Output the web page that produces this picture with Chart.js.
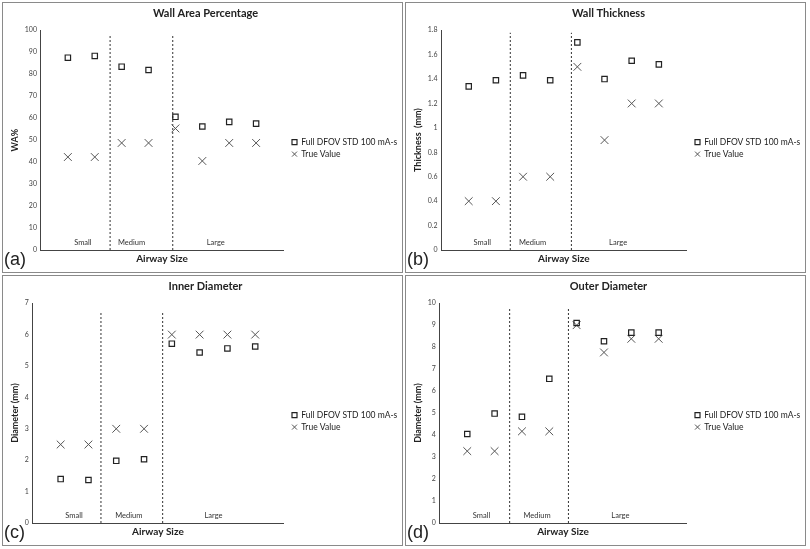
<!DOCTYPE html>
<html>
<head>
<meta charset="utf-8">
<script src="https://cdn.jsdelivr.net/npm/chart.js@4.4.0/dist/chart.umd.min.js"></script>
<style>
  body { margin: 0; background: #fff; width: 810px; height: 549px; position: relative; overflow: hidden; }
  .panel { position: absolute; box-sizing: border-box; border: 1.5px solid #8a8a8a; width: 401px; height: 271px; }
  .panel canvas { position: absolute; left: 0; top: 0; }
  .tag { position: absolute; left: 1px; top: 246px; font: 18px "Liberation Sans", Arial, sans-serif; color: #222; }
</style>
</head>
<body>
<div class="panel" style="left:2px;top:2px"><canvas id="c1" width="398" height="268"></canvas><span class="tag">(a)</span></div>
<div class="panel" style="left:405px;top:2px"><canvas id="c2" width="398" height="268"></canvas><span class="tag">(b)</span></div>
<div class="panel" style="left:2px;top:275px"><canvas id="c3" width="398" height="268"></canvas><span class="tag">(c)</span></div>
<div class="panel" style="left:405px;top:275px"><canvas id="c4" width="398" height="268"></canvas><span class="tag">(d)</span></div>
<script>
// airway index along the x axis
const positions = [1, 2, 3, 4, 5, 6, 7, 8];
const groupNames = ["Small", "Medium", "Large"];
const seriesNames = ["Full DFOV STD 100 mA-s", "True Value"];

// (a) wall area percentage
const waMeasured = [87.5, 88.3, 83.4, 81.9, 60.6, 56.2, 58.3, 57.5];
const waTrue = [42.3, 42.3, 48.7, 48.7, 55.3, 40.5, 48.7, 48.7];
// (b) wall thickness, mm
const wtMeasured = [1.34, 1.39, 1.43, 1.39, 1.70, 1.40, 1.55, 1.52];
const wtTrue = [0.4, 0.4, 0.6, 0.6, 1.5, 0.9, 1.2, 1.2];
// (c) inner diameter, mm
const idMeasured = [1.40, 1.37, 1.98, 2.03, 5.71, 5.43, 5.56, 5.62];
const idTrue = [2.5, 2.5, 3, 3, 6, 6, 6, 6];
// (d) outer diameter, mm
const odMeasured = [4.05, 4.98, 4.83, 6.56, 9.10, 8.27, 8.66, 8.66];
const odTrue = [3.27, 3.27, 4.17, 4.17, 9.0, 7.76, 8.38, 8.38];

const FONT = "Lato, 'Open Sans', sans-serif";

const panels = [
    { id: "c1", title: "Wall Area Percentage", yTitle: "WA%", max: 100, step: 10,
      measured: waMeasured, truth: waTrue, dividers: [2.57, 4.9], divTop: 98, groupAt: [1.56, 3.37, 6.5] },
    { id: "c2", title: "Wall Thickness", yTitle: "Thickness  (mm)", max: 1.8, step: 0.2,
      measured: wtMeasured, truth: wtTrue, dividers: [2.53, 4.78], divTop: 1.78, groupAt: [1.5, 3.35, 6.5] },
    { id: "c3", title: "Inner Diameter", yTitle: "Diameter (mm)", max: 7, step: 1,
      measured: idMeasured, truth: idTrue, dividers: [2.45, 4.67], divTop: 6.75, groupAt: [1.48, 3.45, 6.5] },
    { id: "c4", title: "Outer Diameter", yTitle: "Diameter (mm)", max: 10, step: 1,
      measured: odMeasured, truth: odTrue, dividers: [2.55, 4.7], divTop: 9.75, groupAt: [1.52, 3.55, 6.6] },
];

const groupLabelPlugin = {
    id: "groupLabels",
    afterLayout(chart) {
        // nudge the legend away from the plot area
        chart.legend.left += 5.5;
        chart.legend.right += 5.5;
    },
    afterDatasetsDraw(chart, args, opts) {
        const ctx = chart.ctx;
        const xs = chart.scales.x;
        ctx.save();
        ctx.font = "7.5px " + FONT;
        ctx.fillStyle = "#333";
        ctx.textAlign = "center";
        ctx.textBaseline = "middle";
        opts.at.forEach((x, i) => {
            ctx.fillText(groupNames[i], xs.getPixelForValue(x), chart.chartArea.bottom - 7);
        });
        ctx.restore();
    }
};

function drawPanel(p) {
    const dividerSets = p.dividers.map(x => ({
        type: "line",
        data: [{ x: x, y: 0 }, { x: x, y: p.divTop }],
        borderColor: "#333",
        borderWidth: 1,
        borderDash: [2, 2],
        pointRadius: 0,
    }));
    new Chart(document.getElementById(p.id), {
        type: "scatter",
        plugins: [groupLabelPlugin],
        data: {
            datasets: [
                {
                    label: seriesNames[0],
                    data: positions.map((x, i) => ({ x: x, y: p.measured[i] })),
                    pointStyle: "rect",
                    pointRadius: 3.8,
                    borderColor: "#222",
                    backgroundColor: "rgba(255,255,255,0)",
                    borderWidth: 1.2,
                },
                {
                    label: seriesNames[1],
                    data: positions.map((x, i) => ({ x: x, y: p.truth[i] })),
                    pointStyle: "crossRot",
                    pointRadius: 5.5,
                    borderColor: "#555",
                    borderWidth: 1,
                },
                ...dividerSets,
            ],
        },
        options: {
            responsive: false,
            animation: false,
            layout: { padding: { left: 7, right: 0, top: 0, bottom: 6 } },
            plugins: {
                tooltip: { enabled: false },
                groupLabels: { at: p.groupAt },
                title: {
                    display: true,
                    text: p.title,
                    color: "#222",
                    font: { family: FONT, size: 11, weight: "bold" },
                    padding: { top: 4, bottom: 10 },
                },
                legend: {
                    position: "right",
                    maxWidth: 118,
                    title: { display: true, text: "", font: { size: 1 }, padding: { top: 13, bottom: 14 } },
                    labels: {
                        filter: item => item.datasetIndex < 2,
                        usePointStyle: true,
                        boxWidth: 5,
                        boxHeight: 5,
                        padding: 3.5,
                        color: "#222",
                        font: { family: FONT, size: 8.5 },
                    },
                },
            },
            scales: {
                x: {
                    type: "linear",
                    min: 0,
                    max: 9,
                    grid: { display: false, drawTicks: false },
                    border: { display: true, color: "#444", width: 1 },
                    ticks: { display: false },
                    title: {
                        display: true,
                        text: "Airway Size",
                        color: "#222",
                        font: { family: FONT, size: 10, weight: "bold" },
                        padding: { top: 3, bottom: 0 },
                    },
                },
                y: {
                    min: 0,
                    max: p.max,
                    grid: { display: false, drawTicks: false },
                    border: { display: true, color: "#444", width: 1 },
                    ticks: {
                        stepSize: p.step,
                        padding: 4,
                        color: "#444",
                        font: { family: FONT, size: 7 },
                        callback: v => String(+v.toFixed(1)),
                    },
                    title: {
                        display: true,
                        text: p.yTitle,
                        color: "#222",
                        font: { family: FONT, size: 9, weight: "bold" },
                        padding: { top: 0, bottom: 0 },
                    },
                },
            },
        },
    });
}

Promise.all([
    document.fonts.load("8.5px Lato"),
    document.fonts.load("bold 11px Lato"),
]).then(() => panels.forEach(drawPanel), () => panels.forEach(drawPanel));
</script>
</body>
</html>
